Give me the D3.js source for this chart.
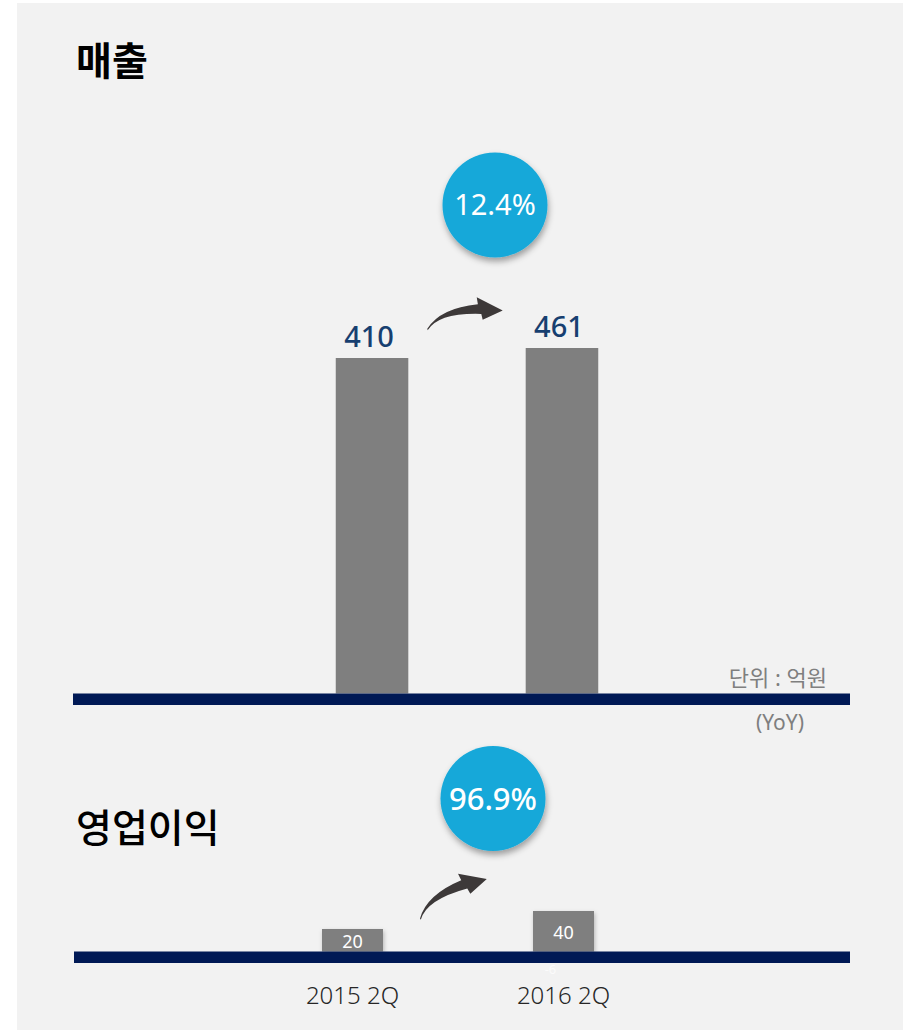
<!DOCTYPE html>
<html>
<head>
<meta charset="utf-8">
<script src="https://cdn.jsdelivr.net/npm/d3@7"></script>
<style>
  body { margin: 0; background: #ffffff; }
  text { font-family: "Noto Sans", "Noto Sans CJK KR", sans-serif; }
</style>
</head>
<body>
<div id="chart"></div>
<script>
  // data
  var periods = ["2015 2Q", "2016 2Q"];
  var sales = [410, 461];
  var opProfit = [20, 40];
  var opProfitNote = ["", "-6"];
  var growth = ["12.4%", "96.9%"];
  var titles = ["매출", "영업이익"];
  var unitLabel = "단위 : 억원";
  var yoyLabel = "(YoY)";

  var width = 905, height = 1030;

  var svg = d3.select("#chart")
    .append("svg")
      .attr("width", width)
      .attr("height", height);

  var defs = svg.append("defs");
  defs.append("filter")
      .attr("id", "shadow")
      .attr("x", "-30%").attr("y", "-30%")
      .attr("width", "160%").attr("height", "160%")
    .append("feDropShadow")
      .attr("dx", 1).attr("dy", 4)
      .attr("stdDeviation", 3)
      .attr("flood-color", "#000")
      .attr("flood-opacity", 0.35);
  defs.append("filter")
      .attr("id", "barShadow")
      .attr("x", "-20%").attr("y", "-20%")
      .attr("width", "140%").attr("height", "140%")
    .append("feDropShadow")
      .attr("dx", 1).attr("dy", 2)
      .attr("stdDeviation", 2)
      .attr("flood-color", "#000")
      .attr("flood-opacity", 0.25);

  // panel
  svg.append("rect")
    .attr("x", 17).attr("y", 3)
    .attr("width", 886).attr("height", 1027)
    .attr("fill", "#f2f2f2");

  // titles
  svg.append("text")
    .attr("x", 76).attr("y", 75)
    .attr("font-size", 39).attr("font-weight", 700)
    .attr("fill", "#000")
    .text(titles[0]);
  svg.append("text")
    .attr("x", 76).attr("y", 842)
    .attr("font-size", 39).attr("font-weight", 500)
    .attr("fill", "#000")
    .text(titles[1]);

  // ---------- top chart (sales) ----------
  var xTop = d3.scaleBand()
    .domain(periods)
    .range([335.75, 598.25])
    .paddingInner(0.618);

  var yTop = d3.scaleLinear()
    .domain([-1300, 461])
    .range([693.5, 348]);

  svg.append("g")
    .selectAll("rect")
    .data(sales)
    .enter()
    .append("rect")
      .attr("x", function (d, i) { return xTop(periods[i]); })
      .attr("y", function (d) { return yTop(d); })
      .attr("width", xTop.bandwidth())
      .attr("height", function (d) { return yTop.range()[0] - yTop(d); })
      .attr("fill", "#7f7f7f");

  svg.append("g")
    .selectAll("text")
    .data(sales)
    .enter()
    .append("text")
      .attr("x", function (d, i) { return xTop(periods[i]) + xTop.bandwidth() / 2 - 3; })
      .attr("y", function (d) { return yTop(d) - 11; })
      .attr("text-anchor", "middle")
      .attr("font-size", 29).attr("font-weight", 500)
      .attr("fill", "#173f70")
      .text(function (d) { return d; });

  // baseline
  svg.append("rect")
    .attr("x", 73).attr("y", yTop.range()[0])
    .attr("width", 777).attr("height", 11.5)
    .attr("fill", "#001955");

  svg.append("text")
    .attr("x", 827).attr("y", 686)
    .attr("text-anchor", "end")
    .attr("font-size", 22)
    .attr("fill", "#7f7f7f")
    .text(unitLabel);
  svg.append("text")
    .attr("x", 780).attr("y", 730)
    .attr("text-anchor", "middle")
    .attr("font-size", 21)
    .attr("fill", "#7f7f7f")
    .text(yoyLabel);

  // ---------- bottom chart (operating profit) ----------
  var xBot = d3.scaleBand()
    .domain(periods)
    .range([322, 594])
    .paddingInner(0.711);

  var yBot = d3.scaleLinear()
    .domain([-5, 40])
    .range([951.5, 911]);

  svg.append("g")
    .selectAll("rect")
    .data(opProfit)
    .enter()
    .append("rect")
      .attr("x", function (d, i) { return xBot(periods[i]); })
      .attr("y", function (d) { return yBot(d); })
      .attr("width", xBot.bandwidth())
      .attr("height", function (d) { return yBot.range()[0] - yBot(d); })
      .attr("fill", "#7f7f7f")
      .attr("filter", "url(#barShadow)");

  svg.append("rect")
    .attr("x", 74).attr("y", yBot.range()[0])
    .attr("width", 776).attr("height", 11.5)
    .attr("fill", "#001955");

  svg.append("g")
    .selectAll("text")
    .data(opProfit)
    .enter()
    .append("text")
      .attr("x", function (d, i) { return xBot(periods[i]) + xBot.bandwidth() / 2; })
      .attr("y", function (d) { return yBot(d) + 0.5 * (yBot.range()[0] - yBot(d)) + 8; })
      .attr("text-anchor", "middle")
      .attr("font-size", 18)
      .attr("fill", "#ffffff")
      .text(function (d) { return d; });

  svg.append("g")
    .selectAll("text")
    .data(opProfitNote)
    .enter()
    .append("text")
      .attr("x", function (d, i) { return xBot(periods[i]) + xBot.bandwidth() / 2 - 13; })
      .attr("y", 974)
      .attr("text-anchor", "middle")
      .attr("font-size", 13)
      .attr("fill", "#fbfbfb")
      .text(function (d) { return d; });

  // category labels
  svg.append("g")
    .selectAll("text")
    .data(periods)
    .enter()
    .append("text")
      .attr("x", function (d) { return xBot(d) + xBot.bandwidth() / 2; })
      .attr("y", 1004)
      .attr("text-anchor", "middle")
      .attr("font-size", 24).attr("font-weight", 300)
      .attr("fill", "#262626")
      .text(function (d) { return d; });

  // ---------- growth bubbles ----------
  var bubbles = [
    {label: growth[0], cx: 495, cy: 205, size: 29},
    {label: growth[1], cx: 493, cy: 798.5, size: 31}
  ];

  var bub = svg.append("g")
    .selectAll("g")
    .data(bubbles)
    .enter()
    .append("g");

  bub.append("circle")
    .attr("cx", function (d) { return d.cx; })
    .attr("cy", function (d) { return d.cy; })
    .attr("r", 52.5)
    .attr("fill", "#14a8d9")
    .attr("filter", "url(#shadow)");

  bub.append("text")
    .attr("x", function (d) { return d.cx; })
    .attr("y", function (d) { return d.cy + d.size * 0.36; })
    .attr("text-anchor", "middle")
    .attr("font-size", function (d) { return d.size; })
    .attr("font-weight", function (d, i) { return i === 1 ? 500 : 400; })
    .attr("fill", "#ffffff")
    .text(function (d) { return d.label; });

  // ---------- curved arrows ----------
  var arrowPath = "M0,0 Q18,-17 55,-11.5 L55.6,-18.7 L77.6,0.5 L55.9,4.7 L56,-1.4 Q15,-13 0,1.5 Z";
  var arrows = [
    {x: 427.3, y: 328.8, angle: -14},
    {x: 420, y: 918.5, angle: -31}
  ];

  svg.append("g")
    .selectAll("path")
    .data(arrows)
    .enter()
    .append("path")
      .attr("d", arrowPath)
      .attr("transform", function (d) {
        return "translate(" + d.x + "," + d.y + ") rotate(" + d.angle + ")";
      })
      .attr("fill", "#3d3939");
</script>
</body>
</html>
